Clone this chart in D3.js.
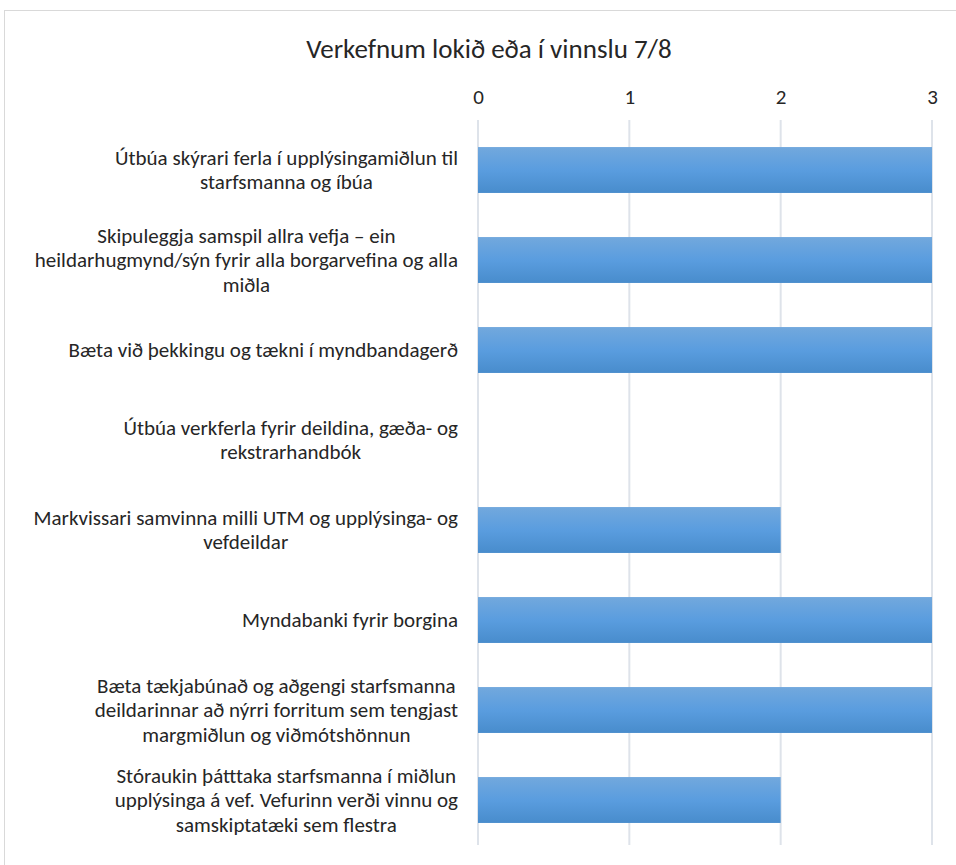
<!DOCTYPE html>
<html>
<head>
<meta charset="utf-8">
<script src="https://cdn.jsdelivr.net/npm/d3@7"></script>
<style>
  body { margin: 0; background: #fff; }
  text { font-family: Carlito, Calibri, "Liberation Sans", sans-serif; fill: #262626; }
</style>
</head>
<body>
<div class="canvas"></div>
<script>
// Data
const categories = [
    'Útbúa skýrari ferla í upplýsingamiðlun til\nstarfsmanna og íbúa',
    'Skipuleggja samspil allra vefja – ein\nheildarhugmynd/sýn fyrir alla borgarvefina og alla\nmiðla',
    'Bæta við þekkingu og tækni í myndbandagerð',
    'Útbúa verkferla fyrir deildina, gæða- og\nrekstrarhandbók',
    'Markvissari samvinna milli UTM og upplýsinga- og\nvefdeildar',
    'Myndabanki fyrir borgina',
    'Bæta tækjabúnað og aðgengi starfsmanna\ndeildarinnar að nýrri forritum sem tengjast\nmargmiðlun og viðmótshönnun',
    'Stóraukin þátttaka starfsmanna í miðlun\nupplýsinga á vef. Vefurinn verði vinnu og\nsamskiptatæki sem flestra'
];
const values = [3, 3, 3, 0, 2, 3, 3, 2];
const ticks = [0, 1, 2, 3];
const title = 'Verkefnum lokið eða í vinnslu 7/8';

// Dimensions
const dims = { width: 956, height: 865 };
const plot = { left: 478, right: 932, top: 125, bottom: 845 };
const labelSize = 21;

const svg = d3.select('.canvas')
    .append('svg')
    .attr('width', dims.width)
    .attr('height', dims.height);

// Chart border (cropped on right and bottom)
svg.append('rect')
    .attr('x', 4.5).attr('y', 10.5)
    .attr('width', 1000).attr('height', 1000)
    .attr('fill', 'white')
    .attr('stroke', '#d9d9d9')
    .attr('stroke-width', 1);

// Gradient for bars
const grad = svg.append('defs').append('linearGradient')
    .attr('id', 'barGrad')
    .attr('x1', 0).attr('y1', 0).attr('x2', 0).attr('y2', 1);
grad.append('stop').attr('offset', '0%').attr('stop-color', '#72a8dd');
grad.append('stop').attr('offset', '50%').attr('stop-color', '#5a9ddf');
grad.append('stop').attr('offset', '100%').attr('stop-color', '#488ccc');

// Scales
const x = d3.scaleLinear()
    .domain([0, 3])
    .range([plot.left, plot.right]);

const y = d3.scaleBand()
    .domain(categories)
    .range([plot.top, plot.bottom])
    .paddingInner(0.49)
    .paddingOuter(0.245);

// Title
svg.append('text')
    .attr('x', 489)
    .attr('y', 58)
    .attr('text-anchor', 'middle')
    .attr('font-size', 27)
    .text(title);

// Gridlines
svg.append('g')
    .selectAll('line')
    .data(ticks)
    .enter()
    .append('line')
        .attr('x1', d => x(d)).attr('x2', d => x(d))
        .attr('y1', plot.top - 5).attr('y2', plot.bottom)
        .attr('stroke', '#dee3ea')
        .attr('stroke-width', 2);

// Top axis labels
const axis = svg.append('g')
    .attr('transform', `translate(0, ${plot.top - 21})`)
    .call(d3.axisTop(x).tickValues(ticks).tickSize(0).tickPadding(0).tickFormat(d3.format('d')));
axis.select('.domain').remove();
axis.selectAll('text')
    .attr('font-size', labelSize)
    .attr('fill', '#262626')
    .style('font-family', 'Carlito, Calibri, "Liberation Sans", sans-serif');

// Bars
svg.append('g')
    .selectAll('rect')
    .data(values)
    .enter()
    .append('rect')
        .attr('x', x(0))
        .attr('y', (d, i) => y(categories[i]))
        .attr('width', d => x(d) - x(0))
        .attr('height', y.bandwidth())
        .attr('fill', 'url(#barGrad)');

// Category labels: multi-line, centred block, right edge aligned
const lineH = 24.5;
const labels = svg.append('g');
categories.forEach(cat => {
    const lines = cat.split('\n');
    const t = labels.append('text')
        .attr('font-size', labelSize)
        .attr('text-anchor', 'middle');
    const cy = y(cat) + y.bandwidth() / 2;
    lines.forEach((ln, j) => {
        t.append('tspan')
            .attr('x', 0)
            .attr('y', cy + (j - (lines.length - 1) / 2) * lineH + 7)
            .text(ln);
    });
    const w = t.node().getBBox().width;
    t.selectAll('tspan').attr('x', 458 - w / 2);
});
</script>
</body>
</html>
